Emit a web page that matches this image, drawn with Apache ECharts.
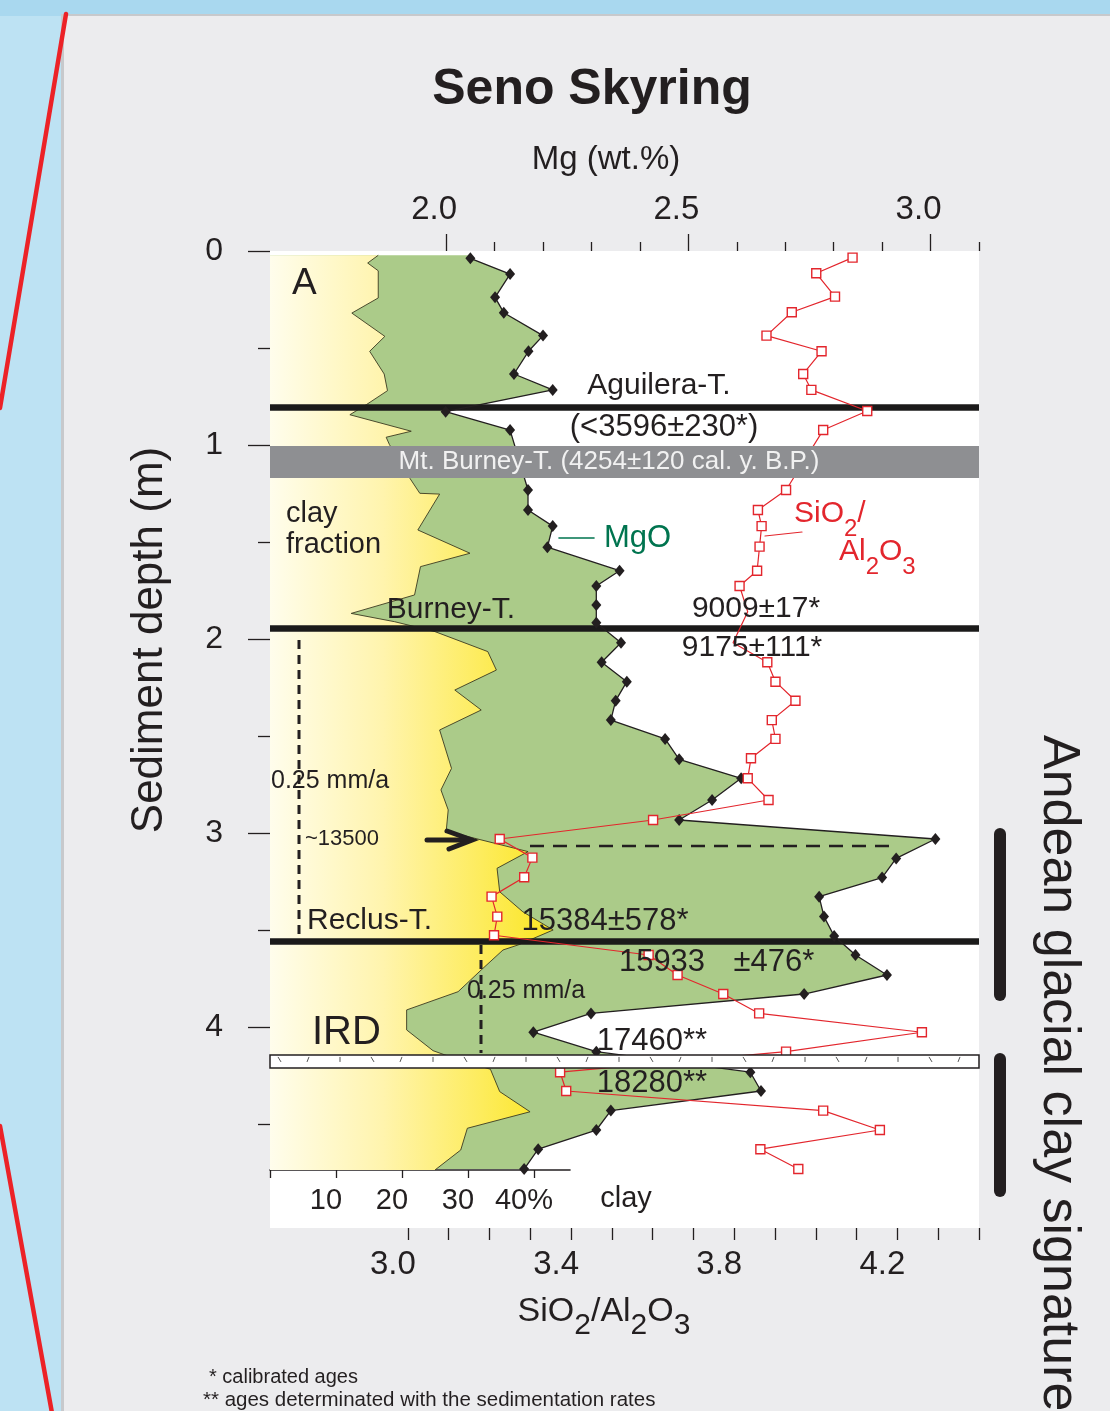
<!DOCTYPE html>
<html>
<head>
<meta charset="utf-8">
<title>Seno Skyring</title>
<script src="https://cdn.jsdelivr.net/npm/echarts@6/dist/echarts.min.js"></script>
<style>
  html, body { margin: 0; padding: 0; background: #bde2f3; }
  #chart { width: 1110px; height: 1411px; }
</style>
</head>
<body>
<div id="chart"></div>
<script>
// MgO samples: depth (m) and Mg (wt.%)
var mgoDepth = [0.038, 0.119, 0.239, 0.318, 0.436, 0.517, 0.634, 0.716, 0.828, 0.923,
  1.232, 1.335, 1.418, 1.527, 1.648, 1.727, 1.825, 1.916, 2.019, 2.120,
  2.220, 2.318, 2.418, 2.515, 2.620, 2.718, 2.830, 2.933, 3.031, 3.131,
  3.230, 3.328, 3.431, 3.531, 3.629, 3.732, 3.830, 3.930, 4.027, 4.127,
  4.233, 4.330, 4.431, 4.531, 4.630, 4.732];
var mgo = [2.050, 2.132, 2.101, 2.119, 2.200, 2.170, 2.140, 2.220, 1.999, 2.132,
  2.169, 2.169, 2.220, 2.209, 2.358, 2.310, 2.310, 2.310, 2.361, 2.321,
  2.373, 2.350, 2.340, 2.452, 2.481, 2.609, 2.549, 2.481, 3.010, 2.929,
  2.900, 2.770, 2.780, 2.801, 2.845, 2.910, 2.739, 2.299, 2.180, 2.310,
  2.628, 2.650, 2.340, 2.310, 2.190, 2.161];

// SiO2/Al2O3 samples
var ratioDepth = [0.034, 0.115, 0.235, 0.316, 0.436, 0.517, 0.634, 0.716, 0.825, 0.923,
  1.232, 1.335, 1.418, 1.524, 1.648, 1.727, 1.860, 2.019, 2.120, 2.220,
  2.318, 2.418, 2.515, 2.615, 2.718, 2.830, 2.933, 3.031, 3.127, 3.228,
  3.328, 3.431, 3.527, 3.629, 3.732, 3.830, 3.930, 4.027, 4.127, 4.233,
  4.330, 4.431, 4.531, 4.630, 4.732];
var ratio = [4.090, 4.001, 4.047, 3.941, 3.879, 4.014, 3.969, 3.989, 4.126, 4.018,
  3.927, 3.858, 3.867, 3.862, 3.856, 3.813, 3.833, 3.797, 3.881, 3.901,
  3.950, 3.892, 3.901, 3.841, 3.833, 3.884, 3.601, 3.225, 3.305, 3.285,
  3.205, 3.219, 3.211, 3.590, 3.661, 3.773, 3.861, 4.260, 3.927, 3.373,
  3.388, 4.018, 4.157, 3.864, 3.957];
// bends of the red line hidden under the age labels (no marker drawn)
var ratioNoMarker = [16, 17];

// clay fraction outline (%)
var clayDepth = [0.022, 0.062, 0.102, 0.242, 0.320, 0.440, 0.517, 0.634, 0.720, 0.792,
  0.844, 0.929, 0.960, 0.998, 1.172, 1.249, 1.253, 1.438, 1.558, 1.627,
  1.773, 1.868, 1.911, 1.962, 2.065, 2.160, 2.263, 2.366, 2.469, 2.667,
  2.778, 2.881, 2.990, 3.027, 3.096, 3.182, 3.303, 3.406, 3.500, 3.577,
  3.603, 3.706, 3.818, 3.912, 4.015, 4.122, 4.144, 4.218, 4.333, 4.437,
  4.522, 4.634, 4.737];
var clay = [16.4, 14.8, 16.4, 16.4, 12.4, 17.4, 15.1, 17.3, 17.8, 14.6,
  12.1, 21.4, 17.6, 18.1, 21.2, 22.7, 25.7, 22.4, 30.3, 22.8,
  21.9, 12.3, 18.9, 25.0, 33.0, 34.3, 28.0, 32.0, 25.7, 27.5,
  25.9, 27.0, 26.7, 31.0, 39.1, 34.4, 34.8, 38.3, 42.9, 37.6,
  35.3, 32.0, 28.5, 20.7, 20.7, 24.7, 26.5, 33.4, 34.8, 39.4,
  29.9, 28.9, 25.0];

// tephra layers and bands (depth, m)
var tephraDepth = [0.807, 1.946, 3.559];
var burneyBand = [1.005, 1.170];
var irdBand = [4.144, 4.211];

// ticks and labels
var depthLabels = [0, 1, 2, 3, 4];
var depthMinor = [0.5, 1.5, 2.5, 3.5, 4.5];
var mgLabels = [2.0, 2.5, 3.0];
var mgMinor = [2.1, 2.2, 2.3, 2.4, 2.6, 2.7, 2.8, 2.9, 3.1];
var ratioLabels = [3.0, 3.4, 3.8, 4.2];
var ratioTicks = [3.0, 3.1, 3.2, 3.3, 3.4, 3.5, 3.6, 3.7, 3.8, 3.9, 4.0, 4.1, 4.2, 4.3, 4.4];
var clayTicks = [0, 10, 20, 30, 40];
var clayLabels = [10, 20, 30, 40];

var ink = '#231f20';
var red = '#e3262d';
var fam = '"Liberation Sans", Arial, Helvetica, sans-serif';

var chart = echarts.init(document.getElementById('chart'));

function clayArea(params, api) {
  var pts = [api.coord([0, clayDepth[0]])];
  var edge = [];
  for (var i = 0; i < clay.length; i++) {
    edge.push(api.coord([clay[i], clayDepth[i]]));
  }
  pts = pts.concat(edge);
  pts.push(api.coord([0, clayDepth[clayDepth.length - 1]]));
  return {
    type: 'group',
    children: [
      {
        type: 'polygon', shape: { points: pts },
        style: {
          fill: new echarts.graphic.LinearGradient(0, 0, 1, 0, [
            { offset: 0, color: '#fffdec' },
            { offset: 0.4, color: '#fff4ad' },
            { offset: 0.75, color: '#fdec5c' },
            { offset: 1, color: '#fbe520' }
          ])
        }
      },
      { type: 'polyline', shape: { points: edge }, style: { stroke: '#3b3a20', lineWidth: 0.9, fill: null } }
    ]
  };
}

function greenArea(params, api) {
  var cs = params.coordSys;
  var top = api.coord([mgo[0], clayDepth[0]]);
  var pts = [[cs.x, top[1]], top];
  for (var i = 0; i < mgo.length; i++) {
    pts.push(api.coord([mgo[i], mgoDepth[i]]));
  }
  var last = pts[pts.length - 1];
  pts.push([cs.x, last[1]]);
  return { type: 'polygon', shape: { points: pts }, style: { fill: '#abcb89' } };
}

function tephraLine(params, api) {
  var cs = params.coordSys;
  var y = api.coord([api.value(0), api.value(1)])[1];
  return {
    type: 'line',
    shape: { x1: cs.x, y1: y, x2: cs.x + cs.width, y2: y },
    style: { stroke: '#1b1a1a', lineWidth: 6.5 }
  };
}

function bandRect(params, api) {
  var cs = params.coordSys;
  var y0 = api.coord([api.value(0), api.value(1)])[1];
  var y1 = api.coord([api.value(0), api.value(2)])[1];
  if (api.value(3) === 0) {
    return {
      type: 'rect',
      shape: { x: cs.x, y: y0, width: cs.width, height: y1 - y0 },
      style: { fill: '#8e8f92' }
    };
  }
  var kids = [{
    type: 'rect',
    shape: { x: cs.x, y: y0, width: cs.width, height: y1 - y0 },
    style: { fill: '#ffffff', stroke: ink, lineWidth: 1.5 }
  }];
  var k = 0;
  for (var x = cs.x + 8; x < cs.x + cs.width - 6; x += 31) {
    var dx = (k % 3 === 0) ? 3 : (k % 3 === 1 ? -2 : 0);
    kids.push({
      type: 'line',
      shape: { x1: x, y1: y0 + 2, x2: x + dx, y2: y0 + 7 },
      style: { stroke: '#555', lineWidth: 1 }
    });
    k++;
  }
  return { type: 'group', children: kids };
}

function txt(x, y, text, size, extra) {
  var st = {
    text: text, fill: ink, fontSize: size, fontFamily: fam,
    align: 'center', verticalAlign: 'middle'
  };
  var el = { type: 'text', x: x, y: y, z: 100, style: st };
  if (extra) {
    for (var k in extra) {
      if (k === 'rotation') el.rotation = extra[k]; else st[k] = extra[k];
    }
  }
  return el;
}

function seg(x1, y1, x2, y2, color, w, dash) {
  return {
    type: 'line', z: 90,
    shape: { x1: x1, y1: y1, x2: x2, y2: y2 },
    style: { stroke: color, lineWidth: w, lineDash: dash || null, lineCap: dash ? 'butt' : 'round' }
  };
}

var subRich = function (color, size, sub) {
  return {
    n: { fontSize: size, fontFamily: fam, fill: color, lineHeight: size + 12, verticalAlign: 'top' },
    s: { fontSize: sub, fontFamily: fam, fill: color, lineHeight: size + 12, verticalAlign: 'bottom' }
  };
};

var graphics = [
  // page background
  { type: 'rect', z: -20, shape: { x: 0, y: 0, width: 1110, height: 16 }, style: { fill: '#a9d8ef' } },
  { type: 'rect', z: -20, shape: { x: 61, y: 14, width: 1049, height: 1397 }, style: { fill: '#c7c9cc' } },
  { type: 'rect', z: -19, shape: { x: 64, y: 16, width: 1046, height: 1395 }, style: { fill: '#ececee' } },
  seg(66, 14, 0, 408, '#ec2227', 4.5),
  seg(0, 1126, 52, 1413, '#ec2227', 4.5),
  // white plot box
  { type: 'rect', z: -5, shape: { x: 270, y: 251, width: 709, height: 977 }, style: { fill: '#ffffff' } },

  // titles
  txt(592, 90, 'Seno Skyring', 50, { fontWeight: 'bold' }),
  txt(606, 160, 'Mg (wt.%)', 33),
  {
    type: 'text', x: 604, y: 1318, z: 100,
    style: {
      text: '{n|SiO}{s|2}{n|/Al}{s|2}{n|O}{s|3}', align: 'center', verticalAlign: 'middle',
      rich: subRich(ink, 34, 30)
    }
  },
  txt(150, 640, 'Sediment depth (m)', 44, { rotation: Math.PI / 2 }),
  txt(1058, 735, 'Andean glacial clay signature', 52, { rotation: -Math.PI / 2, align: 'left' }),
  seg(1000, 834, 1000, 995, ink, 12),
  seg(1000, 1059, 1000, 1191, ink, 12),

  // annotations
  txt(292, 284, 'A', 37, { align: 'left' }),
  txt(659, 386, 'Aguilera-T.', 30),
  txt(664, 427, '(<3596\u00b1230*)', 31),
  txt(609, 462, 'Mt. Burney-T. (4254\u00b1120 cal. y. B.P.)', 26, { fill: '#f1f1f1' }),
  txt(286, 514, 'clay', 29, { align: 'left' }),
  txt(286, 545, 'fraction', 29, { align: 'left' }),
  seg(559, 538, 594, 538, '#00744f', 1.6),
  txt(604, 538, 'MgO', 31, { align: 'left', fill: '#00744f' }),
  seg(765, 536, 802, 532, red, 1.2),
  {
    type: 'text', x: 794, y: 520, z: 100,
    style: { text: '{n|SiO}{s|2}{n|/}', align: 'left', verticalAlign: 'middle', rich: subRich(red, 30, 24) }
  },
  {
    type: 'text', x: 839, y: 558, z: 100,
    style: { text: '{n|Al}{s|2}{n|O}{s|3}', align: 'left', verticalAlign: 'middle', rich: subRich(red, 30, 24) }
  },
  txt(451, 610, 'Burney-T.', 30),
  txt(756, 609, '9009\u00b117*', 30),
  txt(752, 648, '9175\u00b1111*', 30),
  seg(299, 640, 299, 940, ink, 3, [9, 6]),
  txt(271, 781, '0.25 mm/a', 25, { align: 'left' }),
  txt(305, 839, '~13500', 22, { align: 'left' }),
  seg(427, 840, 469, 840, ink, 5),
  { type: 'polyline', z: 90, shape: { points: [[447, 831], [472, 840], [449, 849]] },
    style: { stroke: ink, lineWidth: 5, fill: null, lineCap: 'round', lineJoin: 'miter' } },
  seg(530, 846, 890, 846, ink, 2.5, [14, 9]),
  txt(307, 921, 'Reclus-T.', 30, { align: 'left' }),
  txt(605, 921, '15384\u00b1578*', 31),
  txt(662, 962, '15933', 31),
  txt(774, 962, '\u00b1476*', 31),
  seg(481, 945, 481, 1053, ink, 3, [9, 6]),
  txt(467, 991, '0.25 mm/a', 25, { align: 'left' }),
  txt(312, 1033, 'IRD', 40, { align: 'left' }),
  txt(652, 1041, '17460**', 31),
  txt(652, 1083, '18280**', 31),
  txt(626, 1199, 'clay', 29),
  txt(209, 1377, '* calibrated ages', 20, { align: 'left' }),
  txt(203, 1400, '** ages determinated with the sedimentation rates', 20.5, { align: 'left' })
];

var tickStyle = { color: ink, width: 1.3 };
var labelFont = { color: ink, fontFamily: fam };

var option = {
  animation: false,
  backgroundColor: '#bde2f3',
  grid: [
    { left: 270, top: 251, width: 709, height: 977, show: false },
    { left: 270, top: 1160, width: 300, height: 10, show: false }
  ],
  xAxis: [
    { // Mg, labelled ticks
      type: 'value', gridIndex: 0, position: 'top', min: 1.6364, max: 3.1,
      axisLine: { show: false, onZero: false }, splitLine: { show: false },
      axisTick: { show: true, customValues: mgLabels, length: 17, lineStyle: tickStyle },
      axisLabel: Object.assign({ customValues: mgLabels, fontSize: 33, margin: 25, padding: [0, 24, 0, 0],
        formatter: function (v) { return v.toFixed(1); } }, labelFont)
    },
    { // Mg, minor ticks
      type: 'value', gridIndex: 0, position: 'top', min: 1.6364, max: 3.1,
      axisLine: { show: false, onZero: false }, splitLine: { show: false },
      axisTick: { show: true, customValues: mgMinor, length: 9, lineStyle: tickStyle },
      axisLabel: { show: false }
    },
    { // SiO2/Al2O3
      type: 'value', gridIndex: 0, position: 'bottom', min: 2.6618, max: 4.4,
      axisLine: { show: false, onZero: false }, splitLine: { show: false },
      axisTick: { show: true, customValues: ratioTicks, length: 12, lineStyle: tickStyle },
      axisLabel: Object.assign({ customValues: ratioLabels, fontSize: 33, margin: 20, padding: [0, 30, 0, 0],
        formatter: function (v) { return v.toFixed(1); } }, labelFont)
    },
    { // clay %, same scale as the small clay axis
      type: 'value', gridIndex: 0, show: false, min: 0, max: 107.42,
      axisLine: { onZero: false }
    },
    { // visible clay axis
      type: 'value', gridIndex: 1, position: 'bottom', min: 0, max: 45.4545,
      axisLine: { show: true, onZero: false, lineStyle: { color: ink, width: 1.6 } },
      splitLine: { show: false },
      axisTick: { show: true, customValues: clayTicks, length: 8, lineStyle: tickStyle },
      axisLabel: Object.assign({ customValues: clayLabels, fontSize: 29, margin: 16, padding: [0, 20, 0, 0],
        formatter: function (v) { return v === 40 ? '40%' : String(v); } }, labelFont)
    }
  ],
  yAxis: [
    { // depth
      type: 'value', gridIndex: 0, position: 'left', inverse: true, min: 0, max: 5.0361,
      axisLine: { show: false, onZero: false }, splitLine: { show: false },
      axisTick: { show: true, customValues: depthLabels, length: 22, lineStyle: tickStyle },
      axisLabel: Object.assign({ customValues: depthLabels, fontSize: 32, margin: 47 }, labelFont)
    },
    {
      type: 'value', gridIndex: 0, position: 'left', inverse: true, min: 0, max: 5.0361,
      axisLine: { show: false, onZero: false }, splitLine: { show: false },
      axisTick: { show: true, customValues: depthMinor, length: 12, lineStyle: tickStyle },
      axisLabel: { show: false }
    },
    { type: 'value', gridIndex: 1, show: false, min: 0, max: 1 }
  ],
  series: [
    { type: 'custom', name: 'MgO area', xAxisIndex: 0, yAxisIndex: 0, z: 1, silent: true,
      data: [[2, 0]], renderItem: greenArea },
    { type: 'custom', name: 'clay fraction', xAxisIndex: 3, yAxisIndex: 0, z: 2, silent: true,
      data: [[0, 0]], renderItem: clayArea },
    { type: 'custom', name: 'tephra', xAxisIndex: 0, yAxisIndex: 0, z: 3, silent: true,
      data: tephraDepth.map(function (d) { return [2, d]; }), renderItem: tephraLine },
    {
      type: 'line', name: 'MgO', xAxisIndex: 0, yAxisIndex: 0, z: 4,
      data: mgo.map(function (v, i) { return [v, mgoDepth[i]]; }),
      symbol: 'diamond', symbolSize: [10, 12],
      lineStyle: { color: ink, width: 1.3 },
      itemStyle: { color: ink }
    },
    {
      type: 'line', name: 'SiO2/Al2O3', xAxisIndex: 2, yAxisIndex: 0, z: 5,
      data: ratio.map(function (v, i) {
        var item = { value: [v, ratioDepth[i]] };
        if (ratioNoMarker.indexOf(i) >= 0) item.symbol = 'none';
        return item;
      }),
      symbol: 'rect', symbolSize: 9,
      lineStyle: { color: red, width: 1.2 },
      itemStyle: { color: '#ffffff', borderColor: red, borderWidth: 1.4 }
    },
    { type: 'custom', name: 'bands', xAxisIndex: 0, yAxisIndex: 0, z: 6, silent: true,
      data: [[2, burneyBand[0], burneyBand[1], 0], [2, irdBand[0], irdBand[1], 1]],
      renderItem: bandRect }
  ],
  graphic: graphics
};

chart.setOption(option);
</script>
</body>
</html>
